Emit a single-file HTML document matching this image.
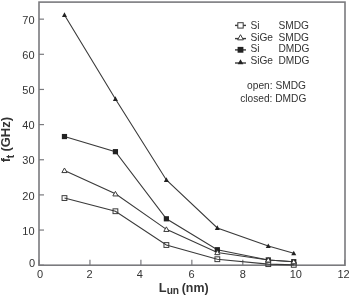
<!DOCTYPE html>
<html><head><meta charset="utf-8"><style>
html,body{margin:0;padding:0;background:#fff;}
svg{display:block;will-change:transform;}
text{font-family:"Liberation Sans",sans-serif;font-size:11px;fill:#333333;}
text.lg{font-size:10.2px;}
</style></head><body>
<svg width="350" height="295" viewBox="0 0 350 295">
<rect x="39.00" y="2.10" width="306.00" height="263.10" fill="none" stroke="#7a7a7e" stroke-width="1.6"/>
<line x1="39.00" y1="265.20" x2="39.00" y2="259.70" stroke="#7a7a7e" stroke-width="1.2"/>
<text x="40.00" y="278.2" text-anchor="middle">0</text>
<line x1="89.95" y1="265.20" x2="89.95" y2="259.70" stroke="#7a7a7e" stroke-width="1.2"/>
<text x="89.50" y="278.2" text-anchor="middle">2</text>
<line x1="140.90" y1="265.20" x2="140.90" y2="259.70" stroke="#7a7a7e" stroke-width="1.2"/>
<text x="139.70" y="278.2" text-anchor="middle">4</text>
<line x1="191.85" y1="265.20" x2="191.85" y2="259.70" stroke="#7a7a7e" stroke-width="1.2"/>
<text x="191.50" y="278.2" text-anchor="middle">6</text>
<line x1="242.80" y1="265.20" x2="242.80" y2="259.70" stroke="#7a7a7e" stroke-width="1.2"/>
<text x="242.90" y="278.2" text-anchor="middle">8</text>
<line x1="293.75" y1="265.20" x2="293.75" y2="259.70" stroke="#7a7a7e" stroke-width="1.2"/>
<text x="295.80" y="278.2" text-anchor="middle">10</text>
<line x1="344.70" y1="265.20" x2="344.70" y2="259.70" stroke="#7a7a7e" stroke-width="1.2"/>
<text x="343.50" y="278.2" text-anchor="middle">12</text>
<line x1="39.00" y1="265.20" x2="44.00" y2="265.20" stroke="#7a7a7e" stroke-width="1.2"/>
<text x="35.2" y="266.9" text-anchor="end">0</text>
<line x1="39.00" y1="230.05" x2="44.00" y2="230.05" stroke="#7a7a7e" stroke-width="1.2"/>
<text x="34.6" y="234.75" text-anchor="end">10</text>
<line x1="39.00" y1="194.90" x2="44.00" y2="194.90" stroke="#7a7a7e" stroke-width="1.2"/>
<text x="34.6" y="199.60" text-anchor="end">20</text>
<line x1="39.00" y1="159.75" x2="44.00" y2="159.75" stroke="#7a7a7e" stroke-width="1.2"/>
<text x="34.6" y="164.45" text-anchor="end">30</text>
<line x1="39.00" y1="124.60" x2="44.00" y2="124.60" stroke="#7a7a7e" stroke-width="1.2"/>
<text x="34.6" y="129.30" text-anchor="end">40</text>
<line x1="39.00" y1="89.45" x2="44.00" y2="89.45" stroke="#7a7a7e" stroke-width="1.2"/>
<text x="34.6" y="94.15" text-anchor="end">50</text>
<line x1="39.00" y1="54.30" x2="44.00" y2="54.30" stroke="#7a7a7e" stroke-width="1.2"/>
<text x="34.6" y="59.00" text-anchor="end">60</text>
<line x1="39.00" y1="19.15" x2="44.00" y2="19.15" stroke="#7a7a7e" stroke-width="1.2"/>
<text x="34.6" y="23.85" text-anchor="end">70</text>
<polyline points="64.47,136.55 115.42,151.67 166.38,218.80 217.33,249.73 268.27,259.93 293.75,261.69" fill="none" stroke="#3a3a3a" stroke-width="1.1"/>
<polyline points="64.47,14.93 115.42,98.94 166.38,179.96 217.33,227.94 268.27,246.01 293.75,253.25" fill="none" stroke="#3a3a3a" stroke-width="1.1"/>
<polyline points="64.47,198.06 115.42,211.24 166.38,245.02 217.33,259.22 268.27,264.15 293.75,264.85" fill="none" stroke="#3a3a3a" stroke-width="1.1"/>
<polyline points="64.47,170.47 115.42,193.85 166.38,229.35 217.33,252.55 268.27,259.93 293.75,261.69" fill="none" stroke="#3a3a3a" stroke-width="1.1"/>
<rect x="61.87" y="133.95" width="5.20" height="5.20" fill="#222"/>
<rect x="112.83" y="149.07" width="5.20" height="5.20" fill="#222"/>
<rect x="163.78" y="216.20" width="5.20" height="5.20" fill="#222"/>
<rect x="214.73" y="247.13" width="5.20" height="5.20" fill="#222"/>
<rect x="265.67" y="257.33" width="5.20" height="5.20" fill="#222"/>
<rect x="291.15" y="259.08" width="5.20" height="5.20" fill="#222"/>
<polygon points="64.47,12.33 66.97,16.93 61.97,16.93" fill="#222"/>
<polygon points="115.42,96.34 117.92,100.94 112.92,100.94" fill="#222"/>
<polygon points="166.38,177.36 168.88,181.96 163.88,181.96" fill="#222"/>
<polygon points="217.33,225.34 219.83,229.94 214.83,229.94" fill="#222"/>
<polygon points="268.27,243.41 270.77,248.01 265.77,248.01" fill="#222"/>
<polygon points="293.75,250.65 296.25,255.25 291.25,255.25" fill="#222"/>
<rect x="62.07" y="195.66" width="4.80" height="4.80" fill="none" stroke="#3a3a3a" stroke-width="1"/>
<rect x="113.02" y="208.84" width="4.80" height="4.80" fill="none" stroke="#3a3a3a" stroke-width="1"/>
<rect x="163.97" y="242.62" width="4.80" height="4.80" fill="none" stroke="#3a3a3a" stroke-width="1"/>
<rect x="214.93" y="256.82" width="4.80" height="4.80" fill="none" stroke="#3a3a3a" stroke-width="1"/>
<rect x="265.88" y="261.75" width="4.80" height="4.80" fill="none" stroke="#3a3a3a" stroke-width="1"/>
<rect x="291.35" y="262.45" width="4.80" height="4.80" fill="none" stroke="#3a3a3a" stroke-width="1"/>
<polygon points="64.47,167.97 67.07,172.57 61.87,172.57" fill="#fff" stroke="#3a3a3a" stroke-width="1"/>
<polygon points="115.42,191.35 118.02,195.95 112.83,195.95" fill="#fff" stroke="#3a3a3a" stroke-width="1"/>
<polygon points="166.38,226.85 168.97,231.45 163.78,231.45" fill="#fff" stroke="#3a3a3a" stroke-width="1"/>
<polygon points="217.33,250.05 219.93,254.65 214.73,254.65" fill="#fff" stroke="#3a3a3a" stroke-width="1"/>
<polygon points="268.27,257.43 270.88,262.03 265.67,262.03" fill="#fff" stroke="#3a3a3a" stroke-width="1"/>
<polygon points="293.75,259.19 296.35,263.79 291.15,263.79" fill="#fff" stroke="#3a3a3a" stroke-width="1"/>
<line x1="235" y1="25.4" x2="246" y2="25.4" stroke="#3a3a3a" stroke-width="1.4"/>
<rect x="237.81" y="22.71" width="5.38" height="5.38" fill="#fff" stroke="#3a3a3a" stroke-width="1"/>
<text class="lg" x="250.4" y="29.1">Si</text>
<text class="lg" x="278.4" y="29.1">SMDG</text>
<line x1="235" y1="38.6" x2="246" y2="38.6" stroke="#3a3a3a" stroke-width="1.4"/>
<polygon points="240.50,34.70 243.41,39.85 237.59,39.85" fill="#fff" stroke="#3a3a3a" stroke-width="1"/>
<text class="lg" x="250.4" y="40.7">SiGe</text>
<text class="lg" x="278.4" y="40.7">SMDG</text>
<line x1="235" y1="49.9" x2="246" y2="49.9" stroke="#3a3a3a" stroke-width="1.4"/>
<rect x="237.59" y="46.89" width="5.82" height="5.82" fill="#222"/>
<text class="lg" x="250.4" y="52.4">Si</text>
<text class="lg" x="278.4" y="52.4">DMDG</text>
<line x1="235" y1="63.0" x2="246" y2="63.0" stroke="#3a3a3a" stroke-width="1.4"/>
<polygon points="240.50,59.19 243.30,64.34 237.70,64.34" fill="#222"/>
<text class="lg" x="250.4" y="64.2">SiGe</text>
<text class="lg" x="278.4" y="64.2">DMDG</text>
<text class="lg" x="306" y="89.0" text-anchor="end">open: SMDG</text>
<text class="lg" x="306.4" y="102.3" text-anchor="end">closed: DMDG</text>
<text x="158.8" y="291.5" style="font-weight:bold;font-size:12.8px">L<tspan style="font-size:10.2px" dy="2.8">un</tspan><tspan style="font-size:12.4px" dy="-2.8" dx="-0.8"> (nm)</tspan></text>
<text transform="translate(10.4,162.3) rotate(-90)" style="font-weight:bold;font-size:13px">f<tspan style="font-size:10px" dy="3.6" dx="-0.3">t</tspan><tspan dy="-3.6" dx="-0.3"> (GHz)</tspan></text>
</svg>
</body></html>
